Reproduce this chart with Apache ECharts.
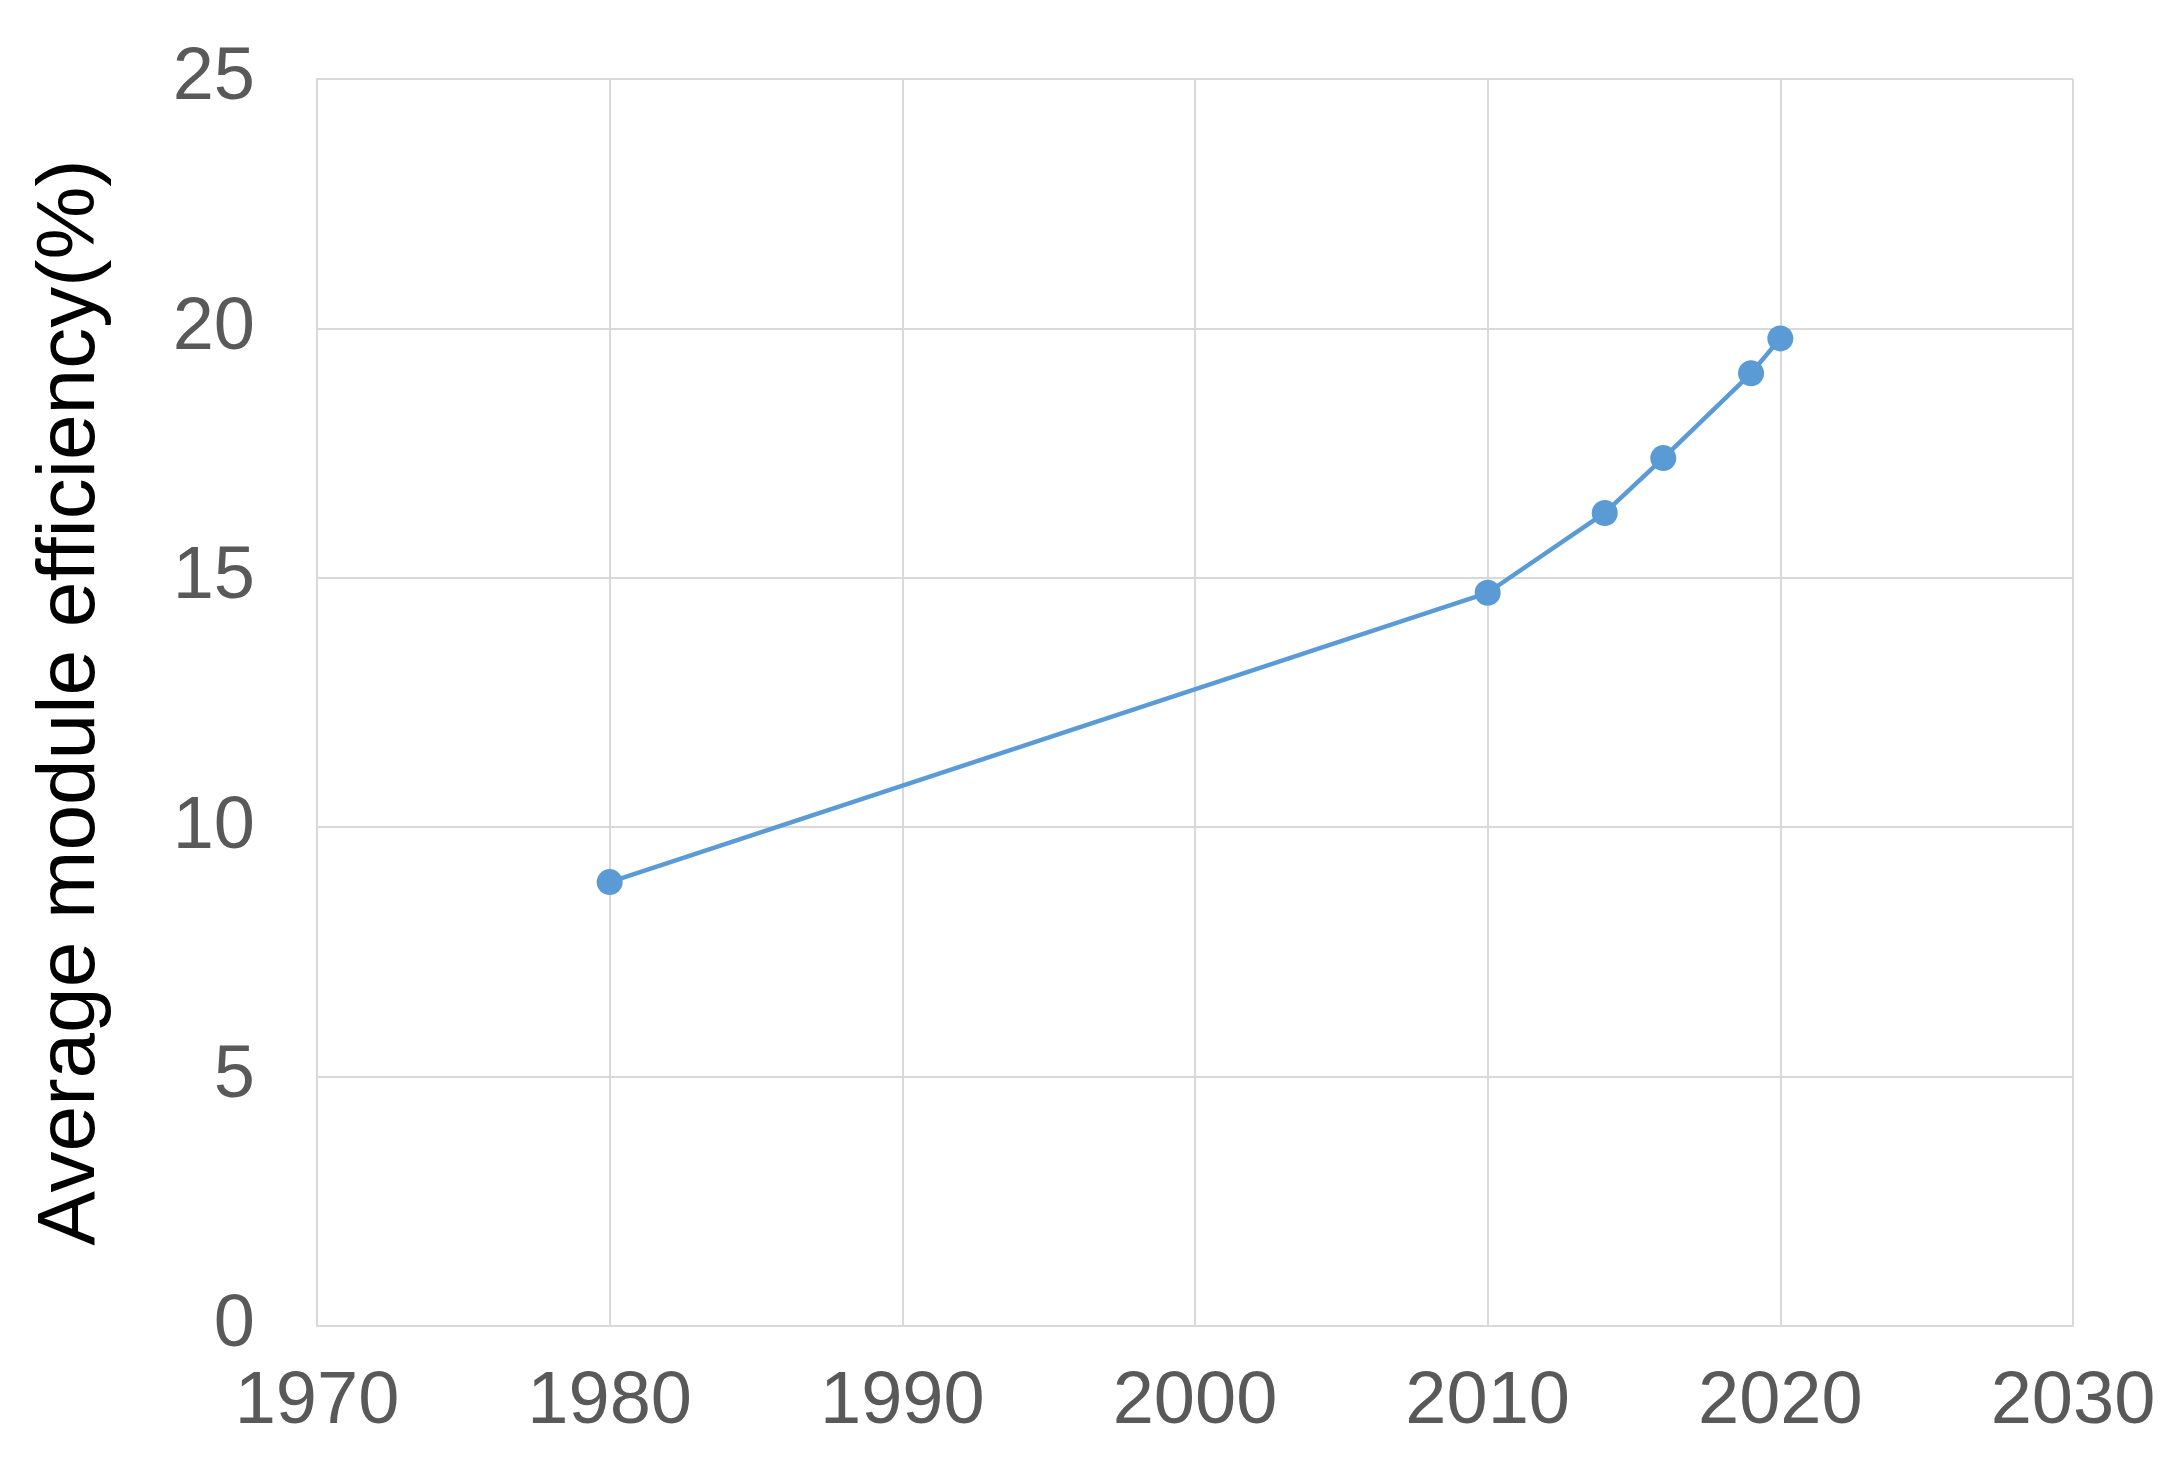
<!DOCTYPE html>
<html>
<head>
<meta charset="utf-8">
<script src="https://cdn.jsdelivr.net/npm/echarts@6/dist/echarts.min.js"></script>
<style>
  html, body { margin: 0; padding: 0; background: #fff; }
  #chart { width: 2176px; height: 1484px; }
</style>
</head>
<body>
<div id="chart"></div>
<script>
const YEARS = [1980, 2010, 2014, 2016, 2019, 2020];
const EFFICIENCY = [8.9, 14.7, 16.3, 17.4, 19.1, 19.8];
const Y_NAME = 'Average module efficiency(%)';

let chart = echarts.init(document.querySelector('#chart'));

chart.setOption({
  animation: false,
  grid: { left: 317, right: 103, top: 79, bottom: 158 },
  xAxis: {
    type: 'value',
    min: 1970, max: 2030, interval: 10,
    axisLine: { show: true, lineStyle: { color: '#d9d9d9', width: 2 } },
    axisTick: { show: false },
    splitLine: { show: true, lineStyle: { color: '#d9d9d9', width: 2 } },
    axisLabel: {
      color: '#595959', fontSize: 74, fontFamily: 'Liberation Sans', margin: 40,
      formatter: v => String(v)
    }
  },
  yAxis: {
    type: 'value',
    min: 0, max: 25, interval: 5,
    name: Y_NAME,
    nameLocation: 'middle',
    nameGap: 205,
    nameTextStyle: { color: '#000', fontSize: 82, fontFamily: 'Liberation Sans' },
    axisLine: { show: true, lineStyle: { color: '#d9d9d9', width: 2 } },
    axisTick: { show: false },
    splitLine: { show: true, lineStyle: { color: '#d9d9d9', width: 2 } },
    axisLabel: { color: '#595959', fontSize: 74, fontFamily: 'Liberation Sans', margin: 62 }
  },
  series: [{
    type: 'line',
    data: YEARS.map((y, i) => [y, EFFICIENCY[i]]),
    symbol: 'circle',
    symbolSize: 26,
    lineStyle: { color: '#5b9bd5', width: 4.5 },
    itemStyle: { color: '#5b9bd5' }
  }]
});
</script>
</body>
</html>
